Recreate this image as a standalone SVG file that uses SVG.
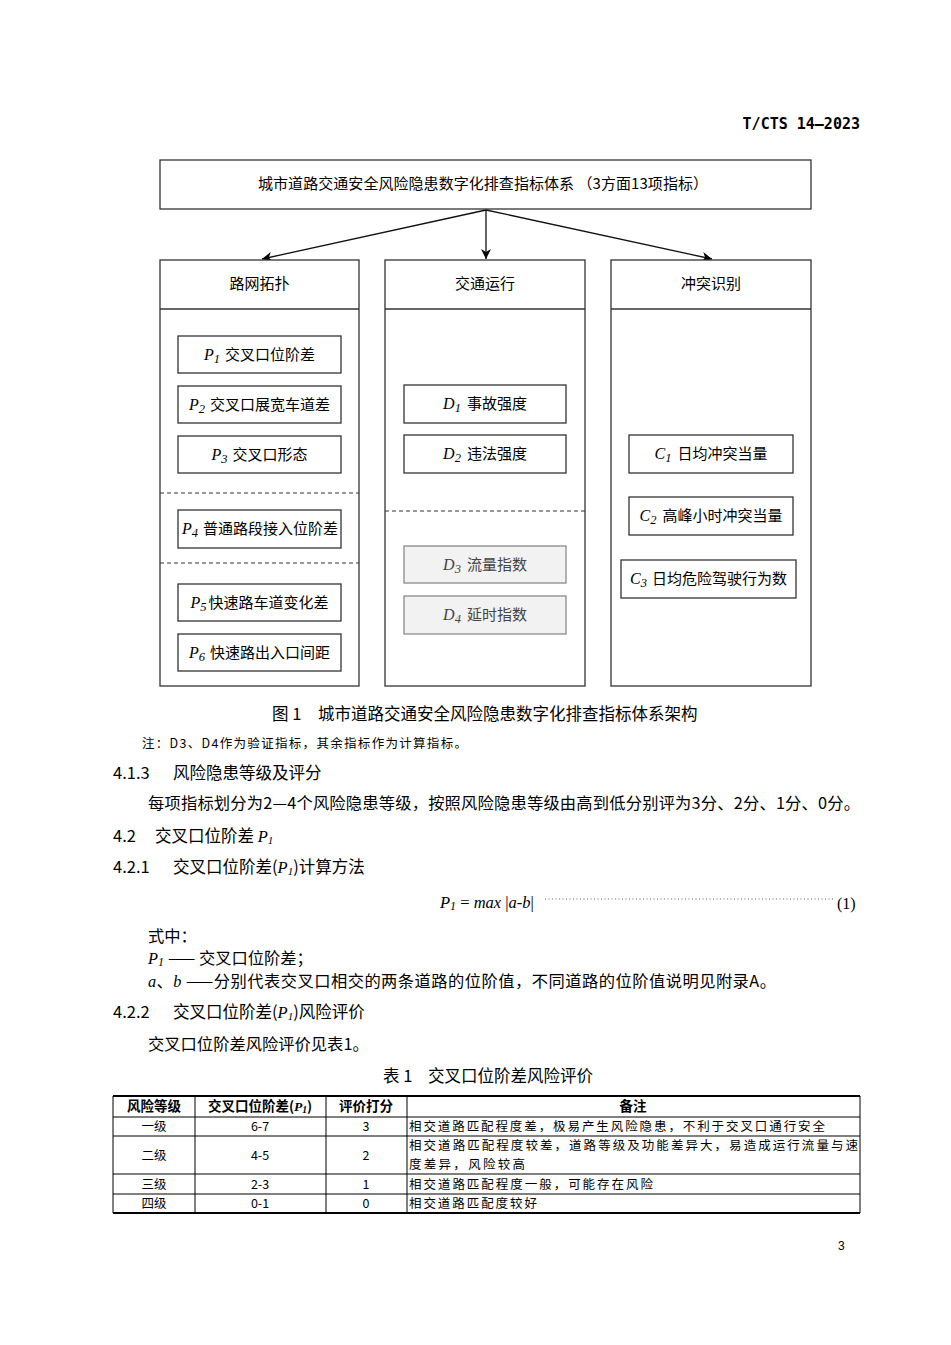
<svg xmlns="http://www.w3.org/2000/svg" width="951" height="1345" viewBox="0 0 951 1345">
<defs>
<marker id="ah" viewBox="0 0 10 10" refX="10" refY="5" markerWidth="10" markerHeight="10" markerUnits="userSpaceOnUse" orient="auto">
<path d="M0,0 L10,5 L0,10 L3,5 Z" fill="#000"/>
</marker>
</defs>
<style>
text{font-family:"Noto Sans CJK SC","Noto Sans",sans-serif;fill:#000}
.box{fill:#fff;stroke:#333;stroke-width:1.3}
.gbox{fill:#f2f2f2;stroke:#8a8a8a;stroke-width:1.3}
.col{fill:#fff;stroke:#333;stroke-width:1.3}
.dash{stroke:#333;stroke-width:1.2;stroke-dasharray:4,3;fill:none}
.conn{stroke:#111;stroke-width:1.3;fill:none;marker-end:url(#ah)}
.n{font-size:15px}
.g{fill:#444}
.v{font-family:"Liberation Serif",serif;font-style:italic}
.h{font-size:16.5px}
.b{font-size:16.3px}
.t{font-size:12.5px}
.tl{stroke:#000;stroke-width:1;fill:none}
.tt{stroke:#000;stroke-width:1.8;fill:none}
</style>
<rect width="951" height="1345" fill="#fff"/>
<text x="860" y="129" text-anchor="end" style="font-family:'DejaVu Sans Mono',monospace;font-size:15px;font-weight:bold">T/CTS 14—2023</text>

<g id="root">
<rect class="box" x="160" y="160" width="651" height="49"/>
<text class="n" x="258" y="189" textLength="450" lengthAdjust="spacing">城市道路交通安全风险隐患数字化排查指标体系 （3方面13项指标）</text>
</g>

<g id="connectors">
<line class="conn" x1="486" y1="210" x2="262" y2="259"/>
<line class="conn" x1="486" y1="210" x2="486" y2="259"/>
<line class="conn" x1="486" y1="210" x2="712" y2="259"/>
</g>

<g id="col-network">
<rect class="col" x="160" y="260" width="199" height="426"/>
<line stroke="#333" stroke-width="1.3" x1="160" y1="309" x2="359" y2="309"/>
<text class="n" x="259.5" y="289" text-anchor="middle">路网拓扑</text>
<line class="dash" x1="160" y1="493" x2="359" y2="493"/>
<line class="dash" x1="160" y1="563" x2="359" y2="563"/>
</g>
<g id="P1"><rect class="box" x="178" y="336" width="163" height="37"/><text class="n" x="259.5" y="360" text-anchor="middle"><tspan class="v" font-size="16">P</tspan><tspan class="v" font-size="12.5" dy="3">1</tspan><tspan dy="-3" dx="5">交叉口位阶差</tspan></text></g>
<g id="P2"><rect class="box" x="178" y="386" width="163" height="37"/><text class="n" x="259.5" y="410" text-anchor="middle"><tspan class="v" font-size="16">P</tspan><tspan class="v" font-size="12.5" dy="3">2</tspan><tspan dy="-3" dx="5">交叉口展宽车道差</tspan></text></g>
<g id="P3"><rect class="box" x="178" y="436" width="163" height="37"/><text class="n" x="259.5" y="460" text-anchor="middle"><tspan class="v" font-size="16">P</tspan><tspan class="v" font-size="12.5" dy="3">3</tspan><tspan dy="-3" dx="5">交叉口形态</tspan></text></g>
<g id="P4"><rect class="box" x="178" y="510" width="163" height="38"/><text class="n" x="260" y="534" text-anchor="middle"><tspan class="v" font-size="16">P</tspan><tspan class="v" font-size="12.5" dy="3">4</tspan><tspan dy="-3" dx="5">普通路段接入位阶差</tspan></text></g>
<g id="P5"><rect class="box" x="178" y="584" width="163" height="37"/><text class="n" x="259.5" y="608" text-anchor="middle"><tspan class="v" font-size="16">P</tspan><tspan class="v" font-size="12.5" dy="3">5</tspan><tspan dy="-3" dx="2">快速路车道变化差</tspan></text></g>
<g id="P6"><rect class="box" x="178" y="634" width="163" height="37"/><text class="n" x="259.5" y="658" text-anchor="middle"><tspan class="v" font-size="16">P</tspan><tspan class="v" font-size="12.5" dy="3">6</tspan><tspan dy="-3" dx="5">快速路出入口间距</tspan></text></g>

<g id="col-traffic">
<rect class="col" x="385" y="260" width="200" height="426"/>
<line stroke="#333" stroke-width="1.3" x1="385" y1="309" x2="585" y2="309"/>
<text class="n" x="485" y="289" text-anchor="middle">交通运行</text>
<line class="dash" x1="385" y1="511" x2="585" y2="511"/>
</g>
<g id="D1"><rect class="box" x="404" y="385" width="162" height="38"/><text class="n" x="485" y="409" text-anchor="middle"><tspan class="v" font-size="16">D</tspan><tspan class="v" font-size="12.5" dy="3">1</tspan><tspan dy="-3" dx="6">事故强度</tspan></text></g>
<g id="D2"><rect class="box" x="404" y="435" width="162" height="38"/><text class="n" x="485" y="459" text-anchor="middle"><tspan class="v" font-size="16">D</tspan><tspan class="v" font-size="12.5" dy="3">2</tspan><tspan dy="-3" dx="6">违法强度</tspan></text></g>
<g id="D3"><rect class="gbox" x="404" y="546" width="162" height="37"/><text class="n g" x="485" y="570" text-anchor="middle"><tspan class="v" font-size="16">D</tspan><tspan class="v" font-size="12.5" dy="3">3</tspan><tspan dy="-3" dx="6">流量指数</tspan></text></g>
<g id="D4"><rect class="gbox" x="404" y="596" width="162" height="38"/><text class="n g" x="485" y="620" text-anchor="middle"><tspan class="v" font-size="16">D</tspan><tspan class="v" font-size="12.5" dy="3">4</tspan><tspan dy="-3" dx="6">延时指数</tspan></text></g>

<g id="col-conflict">
<rect class="col" x="611" y="260" width="200" height="426"/>
<line stroke="#333" stroke-width="1.3" x1="611" y1="309" x2="811" y2="309"/>
<text class="n" x="711" y="289" text-anchor="middle">冲突识别</text>
</g>
<g id="C1"><rect class="box" x="629" y="435" width="164" height="38"/><text class="n" x="711" y="459" text-anchor="middle"><tspan class="v" font-size="16">C</tspan><tspan class="v" font-size="12.5" dy="3">1</tspan><tspan dy="-3" dx="6">日均冲突当量</tspan></text></g>
<g id="C2"><rect class="box" x="629" y="497" width="164" height="38"/><text class="n" x="711" y="521" text-anchor="middle"><tspan class="v" font-size="16">C</tspan><tspan class="v" font-size="12.5" dy="3">2</tspan><tspan dy="-3" dx="6">高峰小时冲突当量</tspan></text></g>
<g id="C3"><rect class="box" x="621" y="560" width="175" height="38"/><text class="n" x="708.5" y="584" text-anchor="middle"><tspan class="v" font-size="16">C</tspan><tspan class="v" font-size="12.5" dy="3">3</tspan><tspan dy="-3" dx="5">日均危险驾驶行为数</tspan></text></g>

<g id="text">
<text class="h" x="272" y="720">图 1<tspan x="318">城市道路交通安全风险隐患数字化排查指标体系架构</tspan></text>
<text x="142" y="748" font-size="12.5" textLength="325" lengthAdjust="spacing">注：D3、D4作为验证指标，其余指标作为计算指标。</text>
<text class="h" x="113" y="779">4.1.3<tspan x="173">风险隐患等级及评分</tspan></text>
<text class="b" x="148" y="809" textLength="712" lengthAdjust="spacing">每项指标划分为2—4个风险隐患等级，按照风险隐患等级由高到低分别评为3分、2分、1分、0分。</text>
<text class="h" x="113" y="842">4.2<tspan x="155">交叉口位阶差 </tspan><tspan class="v">P</tspan><tspan class="v" font-size="11" dy="2">1</tspan></text>
<text class="h" x="113" y="873">4.2.1<tspan x="173">交叉口位阶差(</tspan><tspan class="v">P</tspan><tspan class="v" font-size="11" dy="2">1</tspan><tspan dy="-2">)计算方法</tspan></text>
<text class="v" x="440" y="908" font-size="16.5"><tspan>P</tspan><tspan font-size="12" dy="2">1</tspan><tspan dy="-2" font-style="normal"> = </tspan><tspan>max </tspan><tspan font-style="normal">|</tspan><tspan>a</tspan><tspan font-style="normal">-</tspan><tspan>b</tspan><tspan font-style="normal">|</tspan></text>
<line x1="545" y1="899" x2="833" y2="899" stroke="#666" stroke-width="1" stroke-dasharray="1,2.5"/>
<text x="837" y="909" font-size="16" style="font-family:'Liberation Serif',serif">(1)</text>
<text class="b" x="148" y="942">式中：</text>
<text class="b" x="148" y="964"><tspan class="v">P</tspan><tspan class="v" font-size="12" dy="2">1</tspan><tspan dy="-2" dx="4">—— 交叉口位阶差；</tspan></text>
<text class="b" x="148" y="987" textLength="628" lengthAdjust="spacing"><tspan class="v">a</tspan>、<tspan class="v">b</tspan> ——分别代表交叉口相交的两条道路的位阶值，不同道路的位阶值说明见附录A。</text>
<text class="h" x="113" y="1018">4.2.2<tspan x="173">交叉口位阶差(</tspan><tspan class="v">P</tspan><tspan class="v" font-size="11" dy="2">1</tspan><tspan dy="-2">)风险评价</tspan></text>
<text class="b" x="148" y="1050">交叉口位阶差风险评价见表1。</text>
<text class="h" x="383" y="1082">表 1<tspan x="428">交叉口位阶差风险评价</tspan></text>
<text x="838" y="1250" font-size="12" style="font-family:'Liberation Sans',sans-serif">3</text>
</g>

<g id="table">
<line class="tt" x1="113" y1="1096" x2="860" y2="1096"/>
<line class="tt" x1="113" y1="1213" x2="860" y2="1213"/>
<line class="tl" x1="113" y1="1096" x2="113" y2="1213"/>
<line class="tl" x1="860" y1="1096" x2="860" y2="1213"/>
<line class="tl" x1="195" y1="1096" x2="195" y2="1213"/>
<line class="tl" x1="326" y1="1096" x2="326" y2="1213"/>
<line class="tl" x1="407" y1="1096" x2="407" y2="1213"/>
<line class="tl" x1="113" y1="1117" x2="860" y2="1117"/>
<line class="tl" x1="113" y1="1136" x2="860" y2="1136"/>
<line class="tl" x1="113" y1="1174" x2="860" y2="1174"/>
<line class="tl" x1="113" y1="1194" x2="860" y2="1194"/>
<g font-weight="bold" font-size="13.5">
<text x="154" y="1111" text-anchor="middle">风险等级</text>
<text x="260" y="1111" text-anchor="middle">交叉口位阶差(<tspan class="v">P</tspan><tspan class="v" font-size="9.5" dy="2">1</tspan><tspan dy="-2">)</tspan></text>
<text x="366" y="1111" text-anchor="middle">评价打分</text>
<text x="633" y="1111" text-anchor="middle">备注</text>
</g>
<text class="t" x="154" y="1131" text-anchor="middle">一级</text>
<text class="t" x="260" y="1131" text-anchor="middle">6-7</text>
<text class="t" x="366" y="1131" text-anchor="middle">3</text>
<text class="t" x="409" y="1131" textLength="416" lengthAdjust="spacing">相交道路匹配程度差，极易产生风险隐患，不利于交叉口通行安全</text>
<text class="t" x="154" y="1160" text-anchor="middle">二级</text>
<text class="t" x="260" y="1160" text-anchor="middle">4-5</text>
<text class="t" x="366" y="1160" text-anchor="middle">2</text>
<text class="t" x="409" y="1150" textLength="449" lengthAdjust="spacing">相交道路匹配程度较差，道路等级及功能差异大，易造成运行流量与速</text>
<text class="t" x="409" y="1169" textLength="116" lengthAdjust="spacing">度差异，风险较高</text>
<text class="t" x="154" y="1189" text-anchor="middle">三级</text>
<text class="t" x="260" y="1189" text-anchor="middle">2-3</text>
<text class="t" x="366" y="1189" text-anchor="middle">1</text>
<text class="t" x="409" y="1189" textLength="244" lengthAdjust="spacing">相交道路匹配程度一般，可能存在风险</text>
<text class="t" x="154" y="1208" text-anchor="middle">四级</text>
<text class="t" x="260" y="1208" text-anchor="middle">0-1</text>
<text class="t" x="366" y="1208" text-anchor="middle">0</text>
<text class="t" x="409" y="1208" textLength="128" lengthAdjust="spacing">相交道路匹配度较好</text>
</g>
</svg>
